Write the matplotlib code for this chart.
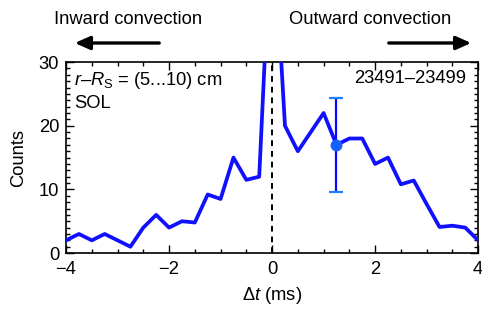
import numpy as np
import matplotlib
matplotlib.use('Agg')
import matplotlib.pyplot as plt
from matplotlib.ticker import MultipleLocator
from matplotlib.patches import FancyArrowPatch

plt.rcParams['font.family'] = ['Liberation Sans', 'DejaVu Sans']
plt.rcParams['mathtext.fontset'] = 'custom'
plt.rcParams['mathtext.rm'] = 'Liberation Sans'
plt.rcParams['mathtext.it'] = 'Liberation Sans:italic'

# time lag (ms) and counts
dt = np.arange(-4, 4.01, 0.25)
counts = [2, 3, 2, 3, 2, 1, 4, 6, 4, 5, 4.8, 9.2, 8.5, 15, 11.5, 12,
          55,
          20, 16, 19, 22, 17, 18, 18, 14, 15, 10.8, 11.4, 7.7, 4.1, 4.3, 4.0, 2.0]

# representative error bar
err_x = 1.25
err_y = 17
err_size = 7.4

fs = 13.2

fig = plt.figure(figsize=(4.82, 3.09), dpi=100)
ax = fig.add_axes([0.137, 0.181, 0.855, 0.618])

ax.plot(dt, counts, color='#1010ff', lw=2.7, zorder=3)
ax.errorbar(err_x, err_y, yerr=err_size, fmt='none', ecolor='#0a0aff', elinewidth=1.6,
            capsize=0, zorder=4)
ax.errorbar(err_x, err_y, yerr=err_size, fmt='none', ecolor='#1e7fff', elinewidth=0,
            capsize=5, capthick=1.6, zorder=4)
ax.plot(err_x, err_y, 'o', color='#1560ff', ms=7.5, zorder=5)
ax.axvline(0, color='k', ls=(0, (3, 2.5)), lw=1.4, zorder=2)

ax.set_xlim(-4, 4)
ax.set_ylim(0, 30)
ax.set_xticks([-4, -2, 0, 2, 4])
ax.set_xticklabels(['\u22124', '\u22122', '0', '2', '4'])
ax.xaxis.set_minor_locator(MultipleLocator(0.5))
ax.yaxis.set_major_locator(MultipleLocator(10))
ax.yaxis.set_minor_locator(MultipleLocator(1))
ax.tick_params(which='both', direction='in', top=True, right=True, labelsize=fs)
ax.tick_params(which='major', length=6, width=1)
ax.tick_params(which='minor', length=3, width=1)
ax.tick_params(axis='x', pad=6)
ax.tick_params(axis='y', pad=5)
for s in ax.spines.values():
    s.set_linewidth(1.2)

ax.set_xlabel(r'$\Delta\mathit{t}$ (ms)', fontsize=fs, labelpad=5)
ax.set_ylabel('Counts', fontsize=fs, labelpad=8)

ax.text(0.02, 0.96, '$\\mathit{r}$\u2013$\\mathit{R}_\\mathrm{S}$ = (5...10) cm',
        transform=ax.transAxes, fontsize=fs, va='top')
ax.text(0.02, 0.83, 'SOL', transform=ax.transAxes, fontsize=fs, va='top')
ax.text(0.97, 0.96, '23491\u201323499', transform=ax.transAxes, fontsize=fs, va='top', ha='right')

# convection arrows above the axes
fig.text(128 / 482, 1 - 19 / 309, 'Inward convection', fontsize=fs, ha='center', va='center')
fig.text(370 / 482, 1 - 19 / 309, 'Outward convection', fontsize=fs, ha='center', va='center')
fig.patches.append(FancyArrowPatch(
    (162 / 482, 1 - 43 / 309), (72 / 482, 1 - 43 / 309), transform=fig.transFigure,
    arrowstyle='-|>,head_length=9,head_width=4', color='k', lw=2.4, mutation_scale=1))
fig.patches.append(FancyArrowPatch(
    (386 / 482, 1 - 43 / 309), (474 / 482, 1 - 43 / 309), transform=fig.transFigure,
    arrowstyle='-|>,head_length=9,head_width=4', color='k', lw=2.4, mutation_scale=1))

fig.savefig('out.png', dpi=100)
